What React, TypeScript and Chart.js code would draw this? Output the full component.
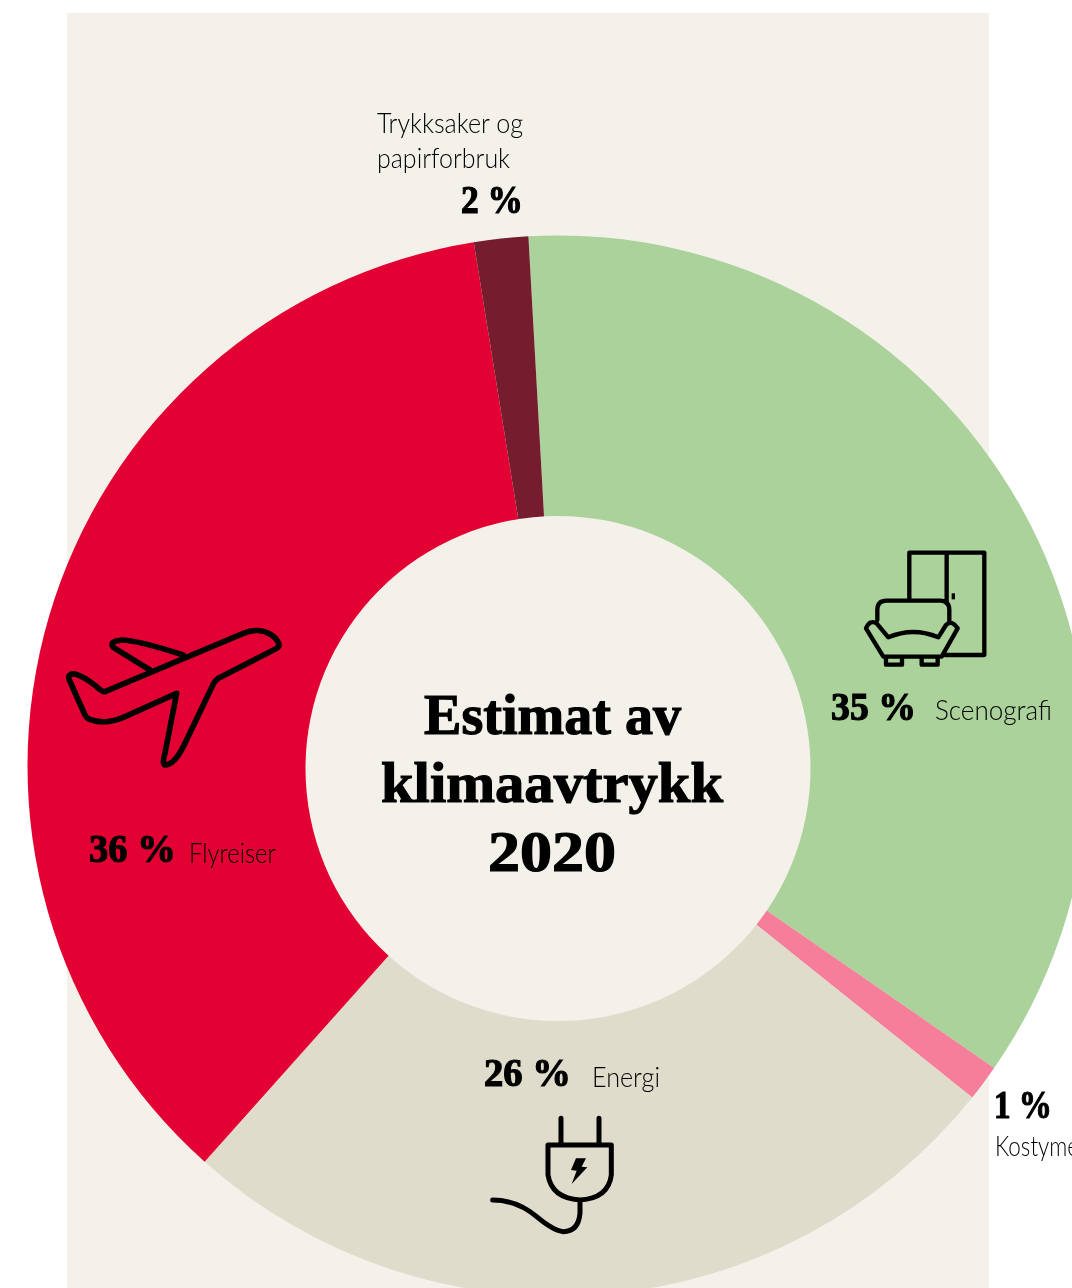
import React, { useEffect, useRef } from "react";
import { Chart, registerables } from "chart.js";

Chart.register(...registerables);

const categories = ["Scenografi", "Kostymer", "Energi", "Flyreiser", "Trykksaker og papirforbruk"];
const sliceShares = [35.53, 1.1, 25.86, 35.86, 1.65];
const percentLabels = ["35 %", "1 %", "26 %", "36 %", "2 %"];
const sliceColors = ["#abd29a", "#f57e9a", "#dfdccb", "#e30134", "#751d2e"];
const titleLines = ["Estimat av", "klimaavtrykk", "2020"];

const SERIF = "'Liberation Serif', serif";
const SANS = "Lato, sans-serif";
const PANEL = "#f4f1ea";

type T = { text: string; x: number; y: number; w: number; serif?: boolean; size?: number };

const texts: T[] = [
  { text: titleLines[0], x: 424, y: 734, w: 257, serif: true, size: 56 },
  { text: titleLines[1], x: 381, y: 802, w: 342, serif: true, size: 56 },
  { text: titleLines[2], x: 488, y: 871, w: 128, serif: true, size: 56 },
  { text: percentLabels[4], x: 461, y: 213, w: 62, serif: true },
  { text: "Trykksaker og", x: 377, y: 133, w: 146 },
  { text: "papirforbruk", x: 377, y: 168, w: 133 },
  { text: percentLabels[0], x: 831, y: 720, w: 85, serif: true },
  { text: categories[0], x: 935, y: 720, w: 117 },
  { text: percentLabels[3], x: 89, y: 862, w: 87, serif: true },
  { text: categories[3], x: 189, y: 863, w: 87 },
  { text: percentLabels[2], x: 484, y: 1086, w: 87, serif: true },
  { text: categories[2], x: 592, y: 1087, w: 68 },
  { text: percentLabels[1], x: 994, y: 1118, w: 58, serif: true },
  { text: categories[1], x: 995, y: 1156, w: 92 },
];

const planePath =
  "M165,245 L580,70 Q625,52 660,72 Q680,85 686,100 Q690,110 678,116 L505,205 Q495,212 490,222 L400,410 Q372,465 345,465 Q335,460 345,430 L380,250 L225,320 Q170,345 125,330 Q112,328 105,315 L58,210 Q50,190 75,192 Q100,198 140,230 Q155,245 165,245 Z M300,180 L190,112 Q175,95 215,90 Q260,90 400,135";
const sofaPath =
  "M268,178 V38 H493 V345 H375 M380,38 V190 M172,240 V210 Q172,182 200,182 H360 Q388,182 388,210 V245 M205,292 Q280,260 355,292 L378,255 Q395,238 413,265 L365,350 H190 L138,265 Q150,238 170,250 Z M198,352 V374 H246 V352 M305,352 V374 H353 V352";
const plugPath =
  "M273,235 V312 M387,235 V312 M234,315 H424 V405 Q415,475 330,480 Q245,475 234,405 Z M330,480 V520 Q325,575 280,575 Q250,572 200,530 Q140,480 68,480";
const boltPath = "M318,355 L348,355 L335,380 L352,382 L305,432 L320,392 L303,390 Z";

export default function App() {
  const ref = useRef<HTMLCanvasElement>(null);
  useEffect(() => {
    const chart = new Chart(ref.current!, {
      type: "doughnut",
      data: {
        labels: categories,
        datasets: [{ data: sliceShares, backgroundColor: sliceColors, borderWidth: 0 }],
      },
      options: {
        animation: false,
        responsive: false,
        cutout: 245,
        rotation: -3.2,
        layout: { padding: { left: 27.5, right: 27.5, top: 235.5, bottom: 3.5 } },
        plugins: { legend: { display: false }, tooltip: { enabled: false } },
      },
    });
    return () => chart.destroy();
  }, []);

  return (
    <div style={{ position: "absolute", left: 0, top: 0, width: 1072, height: 1288, overflow: "hidden", background: "#fff" }}>
      <div style={{ position: "absolute", left: 67, top: 13, width: 922, height: 1275, background: PANEL }} />
      <canvas ref={ref} width={1116} height={1300} style={{ position: "absolute", left: 0, top: 0 }} />
      <svg width={1072} height={1288} style={{ position: "absolute", left: 0, top: 0 }}>
        <circle cx={558} cy={768.5} r={252.5} fill={PANEL} />
        <g fill="none" stroke="#000" strokeLinejoin="round" strokeLinecap="round">
          <path transform="translate(50,610) scale(0.3333)" d={planePath} strokeWidth={17} />
          <g transform="translate(820,540) scale(0.3333)">
            <path d={sofaPath} strokeWidth={13} />
            <rect x={395} y={160} width={10} height={18} fill="#000" stroke="none" />
          </g>
          <g transform="translate(470,1040) scale(0.3333)">
            <path d={plugPath} strokeWidth={15} />
            <path d={boltPath} fill="#000" stroke="none" />
          </g>
        </g>
        {texts.map((t) => (
          <text
            key={t.text}
            x={t.x}
            y={t.y}
            textLength={t.w}
            lengthAdjust="spacingAndGlyphs"
            fill="#000"
            stroke={t.serif ? "#000" : "none"}
            strokeWidth={t.serif ? 1.2 : 0}
            style={{
              fontFamily: t.serif ? SERIF : SANS,
              fontWeight: t.serif ? 700 : 300,
              fontSize: t.size ?? (t.serif ? 40 : 27),
            }}
          >
            {t.text}
          </text>
        ))}
      </svg>
    </div>
  );
}
